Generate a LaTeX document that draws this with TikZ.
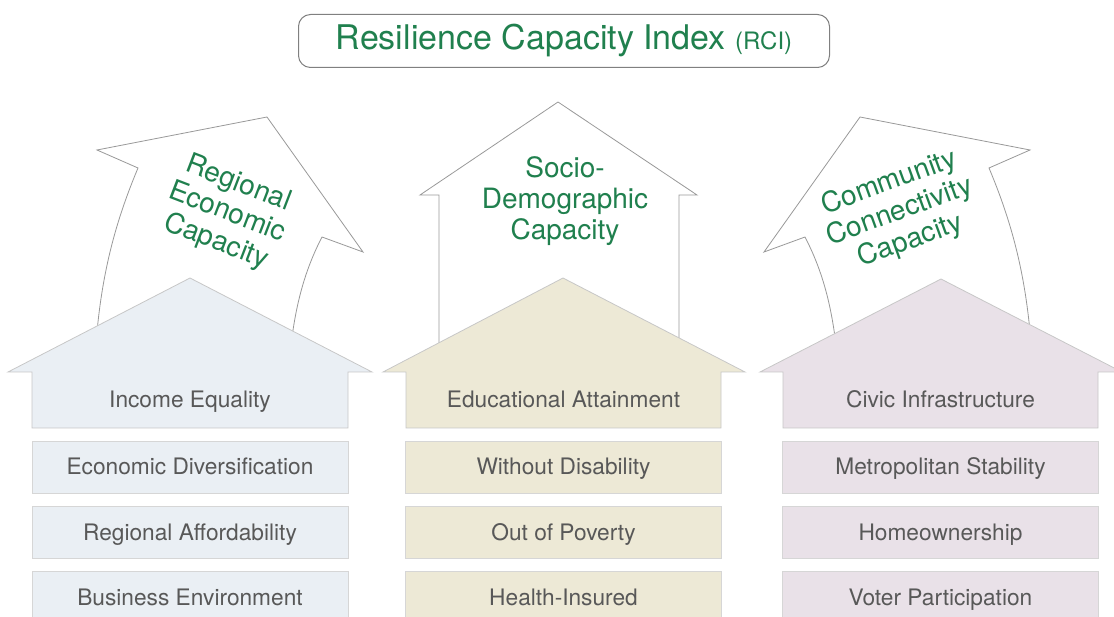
\documentclass[tikz,border=0pt]{standalone}
\usepackage{fontspec}
\setmainfont{TeX Gyre Heros}
\definecolor{rcigreen}{RGB}{32,128,78}
\definecolor{econfill}{RGB}{234,239,244}
\definecolor{sociofill}{RGB}{237,233,214}
\definecolor{commfill}{RGB}{233,225,232}
\definecolor{itemgray}{RGB}{88,88,88}
\tikzset{
  arrowshape/.style={draw=black!40, fill=white, line width=0.8pt},
  houseshape/.style={draw=black!22, line width=0.8pt},
  itemtext/.style={text=itemgray, font=\fontsize{22.7}{26}\selectfont, text height=16pt, text depth=0pt, inner sep=0pt},
  itembox/.style={itemtext, draw=black!16, line width=0.8pt, minimum width=316pt, minimum height=52pt},
  capname/.style={text=rcigreen, align=center, font=\fontsize{28}{31}\selectfont},
}
\begin{document}
\begin{tikzpicture}[x=1pt, y=-1pt]
  \useasboundingbox (0,0) rectangle (1114,617);
  \clip (0,0) rectangle (1114,617);
  % title
  \node[draw=black!50, line width=1pt, rounded corners=12pt, minimum width=531pt, minimum height=53pt, text=rcigreen] (rci) at (564,41)
    {\fontsize{34}{37}\selectfont Resilience Capacity Index \fontsize{24}{28}\selectfont(RCI)};
  % the three arrows
  \draw[arrowshape] (94,380) .. controls (97,290) and (112,230) .. (138,168) -- (97,150) -- (267,117) -- (363,252) -- (322,237) .. controls (305,270) and (292,310) .. (288,380);
  \draw[arrowshape] (439,380) -- (439,195) -- (420,195) -- (558,102) -- (697,195) -- (679,195) -- (679,380);
  \draw[arrowshape] (1033,380) .. controls (1030,290) and (1015,230) .. (989,168) -- (1030,150) -- (860,117) -- (764,252) -- (805,237) .. controls (822,270) and (835,310) .. (839,380);
  \node[capname, rotate=-21] (econ) at (227,213) {Regional\\Economic\\Capacity};
  \node[capname] (socio) at (565,201) {Socio-\\Demographic\\Capacity};
  \node[capname, rotate=20] (comm) at (900,212) {Community\\Connectivity\\Capacity};
  % houses
  \draw[houseshape, fill=econfill] (8,372) -- (190,278) -- (372,372) -- (348,372) -- (348,428) -- (32,428) -- (32,372) -- cycle;
  \draw[houseshape, fill=sociofill] (383,372) -- (563,278) -- (745,372) -- (721,372) -- (721,428) -- (406,428) -- (406,372) -- cycle;
  \draw[houseshape, fill=commfill] (760,372) -- (941,279) -- (1122,372) -- (1098,372) -- (1098,428) -- (783,428) -- (783,372) -- cycle;
  % indicators
  \node[itemtext] (econ1) at (190,400) {Income Equality};
  \node[itembox, fill=econfill] (econ2) at (190,467) {Economic Diversification};
  \node[itembox, fill=econfill] (econ3) at (190,532) {Regional Affordability};
  \node[itembox, fill=econfill] (econ4) at (190,597) {Business Environment};
  \node[itemtext] (socio1) at (563.5,400) {Educational Attainment};
  \node[itembox, fill=sociofill] (socio2) at (563.5,467) {Without Disability};
  \node[itembox, fill=sociofill] (socio3) at (563.5,532) {Out of Poverty};
  \node[itembox, fill=sociofill] (socio4) at (563.5,597) {Health-Insured};
  \node[itemtext] (comm1) at (940.5,400) {Civic Infrastructure};
  \node[itembox, fill=commfill] (comm2) at (940.5,467) {Metropolitan Stability};
  \node[itembox, fill=commfill] (comm3) at (940.5,532) {Homeownership};
  \node[itembox, fill=commfill] (comm4) at (940.5,597) {Voter Participation};
\end{tikzpicture}
\end{document}
